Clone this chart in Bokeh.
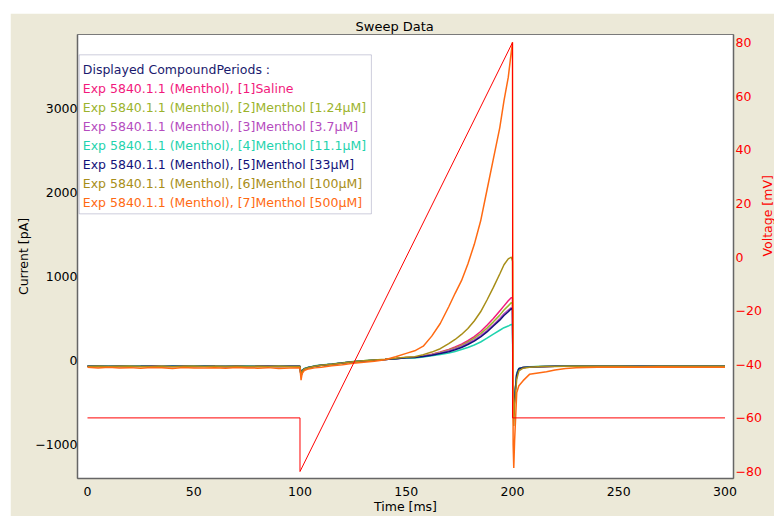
import math
from bokeh.plotting import figure
from bokeh.models import Range1d, LinearAxis, FixedTicker, BoxAnnotation, ColumnDataSource, Spacer
from bokeh.layouts import column, row
from bokeh.embed import file_html
from bokeh.resources import INLINE
from bokeh.core.properties import value

# ---------------- data ----------------
time_ms = [0, 5, 10, 15, 20, 25, 30, 35, 40, 45, 50, 55, 60, 65, 70, 75, 80, 85, 90, 95,
           99.5, 100, 100.5, 101, 102, 104, 107, 110,
           115, 120, 125, 130, 135, 140, 145, 150,
           154, 158, 162, 166, 170,
           173, 176, 179, 182, 185, 188, 191,
           194, 196, 198, 199.5, 200,
           200.3, 200.6, 201, 202, 203, 205, 208, 212, 216, 220, 225, 230,
           240, 250, 260, 270, 280, 290, 300]

series_names = [
    "Exp 5840.1.1 (Menthol), [1]Saline",
    "Exp 5840.1.1 (Menthol), [2]Menthol [1.24\u00b5M]",
    "Exp 5840.1.1 (Menthol), [3]Menthol [3.7\u00b5M]",
    "Exp 5840.1.1 (Menthol), [4]Menthol [11.1\u00b5M]",
    "Exp 5840.1.1 (Menthol), [5]Menthol [33\u00b5M]",
    "Exp 5840.1.1 (Menthol), [6]Menthol [100\u00b5M]",
    "Exp 5840.1.1 (Menthol), [7]Menthol [500\u00b5M]",
]
series_colors = ["#F2197C", "#9BB32C", "#B54CBE", "#1FD3AE", "#12127A", "#A88E18", "#FF6A12"]

current_saline = [-68, -72, -66, -70, -74, -69, -67, -71, -73, -68, -70, -66, -72, -69, -71, -74, -68, -70, -72, -70,
                  -70, -72, -185, -125, -100, -84, -68, -57,
                  -45, -30, -15, -5, 4, 12, 22, 35,
                  40, 55, 75, 100, 130,
                  160, 195, 235, 285, 345, 420, 500,
                  590, 650, 710, 750, 740,
                  -520, -620, -440, -160, -98, -84, -78, -74, -72, -70, -69, -68,
                  -69, -67, -70, -68, -69, -67, -68]
current_1_24 = [-70, -67, -71, -69, -66, -72, -70, -68, -69, -72, -67, -70, -69, -71, -68, -70, -73, -69, -67, -71,
                -71, -70, -180, -120, -98, -82, -66, -56,
                -44, -29, -14, -4, 5, 13, 23, 36,
                40, 55, 72, 95, 125,
                150, 180, 220, 265, 320, 385, 460,
                540, 600, 650, 690, 680,
                -530, -610, -430, -160, -96, -83, -77, -73, -71, -70, -68, -68,
                -68, -70, -67, -69, -68, -70, -67]
current_3_7 = [-69, -71, -68, -72, -70, -67, -70, -73, -68, -70, -71, -69, -67, -72, -70, -68, -71, -69, -70, -68,
               -69, -71, -182, -122, -99, -83, -67, -57,
               -45, -31, -15, -5, 4, 12, 21, 34,
               38, 52, 68, 88, 115,
               140, 168, 205, 245, 295, 355, 425,
               500, 555, 600, 630, 620,
               -540, -620, -440, -165, -97, -84, -78, -74, -71, -70, -69, -68,
               -70, -68, -69, -67, -69, -68, -70]
current_11_1 = [-66, -69, -67, -70, -68, -65, -69, -71, -67, -68, -70, -66, -69, -68, -70, -67, -69, -71, -68, -69,
                -68, -69, -175, -118, -96, -80, -64, -54,
                -42, -28, -13, -3, 6, 13, 22, 33,
                30, 42, 55, 72, 90,
                108, 130, 155, 185, 220, 265, 315,
                360, 390, 410, 430, 420,
                -500, -590, -420, -150, -94, -82, -76, -72, -70, -69, -67, -66,
                -67, -66, -68, -66, -67, -65, -67]
current_33 = [-70, -68, -72, -69, -71, -70, -68, -71, -70, -69, -72, -68, -70, -71, -69, -72, -70, -68, -71, -69,
              -70, -70, -188, -124, -100, -84, -68, -58,
              -46, -31, -16, -6, 3, 11, 20, 33,
              35, 48, 62, 82, 105,
              128, 155, 190, 230, 280, 340, 410,
              480, 535, 580, 620, 600,
              -550, -630, -450, -170, -98, -84, -78, -74, -72, -70, -69, -68,
              -68, -69, -68, -70, -68, -69, -68]
current_100 = [-71, -69, -73, -70, -68, -72, -71, -69, -74, -70, -68, -72, -70, -73, -69, -71, -70, -72, -69, -73,
               -72, -73, -195, -128, -102, -86, -69, -58,
               -45, -30, -14, -3, 6, 15, 26, 40,
               45, 70, 100, 140, 200,
               250, 310, 380, 470, 580, 720, 870,
               1030, 1140, 1210, 1230, 1180,
               -620, -780, -520, -220, -125, -92, -80, -75, -72, -71, -70, -69,
               -70, -69, -71, -69, -70, -68, -70]
current_500 = [-82, -88, -80, -90, -85, -92, -84, -87, -95, -83, -88, -90, -86, -93, -84, -89, -91, -85, -96, -88,
               -86, -90, -235, -155, -120, -100, -88, -80,
               -62, -50, -32, -20, -10, 8, 45, 85,
               115, 170, 290, 440, 640,
               800, 950, 1150, 1380, 1660, 2030, 2400,
               2770, 3095, 3370, 3690, 3790,
               -1000, -1280, -950, -380, -300, -240, -165, -148, -135, -112, -96, -86,
               -82, -80, -81, -79, -82, -80, -81]
currents = [current_saline, current_1_24, current_3_7, current_11_1, current_33, current_100, current_500]

voltage_time = [0, 100, 100, 200, 200, 300]
voltage_mv = [-60, -60, -80, 80, -60, -60]

x_ticks = [0, 50, 100, 150, 200, 250, 300]
current_ticks = [-1000, 0, 1000, 2000, 3000]
voltage_ticks = [-80, -60, -40, -20, 0, 20, 40, 60, 80]

legend_title = "Displayed CompoundPeriods :"

# ---------------- figure ----------------
FONT = "DejaVu Sans"
FS = "12.5px"
BEIGE = "#ECE9D8"

p = figure(width=778, height=503, output_backend="svg", toolbar_location=None,
           x_range=Range1d(-4.7, 304.0), y_range=Range1d(-1405, 3881),
           min_border_left=67, min_border_right=55, min_border_top=21, min_border_bottom=38,
           background_fill_color="white", border_fill_color=BEIGE,
           title="Sweep Data")
p.extra_y_ranges = {"v": Range1d(-82.6, 83.0)}

p.title.align = "left"
p.title.offset = 278
p.title.standoff = 2
p.title.text_font = FONT
p.title.text_font_size = "13px"
p.title.text_font_style = "normal"
p.title.text_color = "black"

p.grid.visible = False
p.outline_line_color = "#7A7A7A"
p.outline_line_width = 1

for ax in (p.xaxis[0], p.yaxis[0]):
    ax.major_tick_line_color = None
    ax.minor_tick_line_color = None
    ax.major_tick_out = 0
    ax.major_tick_in = 0
    ax.axis_line_color = "#666666"
    ax.axis_line_width = 1.5
    ax.major_label_text_font = FONT
    ax.major_label_text_font_size = FS
    ax.major_label_text_color = "black"
    ax.axis_label_text_font = FONT
    ax.axis_label_text_font_size = FS
    ax.axis_label_text_font_style = "normal"
    ax.axis_label_text_color = "black"

p.xaxis.ticker = FixedTicker(ticks=x_ticks)
p.xaxis.axis_label = "Time [ms]"
p.xaxis.major_label_standoff = 8
p.xaxis.axis_label_standoff = 0

p.yaxis.ticker = FixedTicker(ticks=current_ticks)
p.yaxis.axis_label = "Current [pA]"
p.yaxis.major_label_standoff = 0
p.yaxis.axis_label_standoff = 1

vax = LinearAxis(y_range_name="v", ticker=FixedTicker(ticks=voltage_ticks), axis_label="Voltage [mV]")
vax.major_tick_line_color = None
vax.minor_tick_line_color = None
vax.major_tick_out = 0
vax.major_tick_in = 0
vax.axis_line_color = "#666666"
vax.axis_line_width = 1.5
vax.major_label_standoff = 2
vax.major_label_text_font = FONT
vax.major_label_text_font_size = FS
vax.major_label_text_color = "#FF0000"
vax.axis_label_text_font = FONT
vax.axis_label_text_font_size = FS
vax.axis_label_text_font_style = "normal"
vax.axis_label_text_color = "#FF0000"
vax.axis_label_standoff = 3
vax.axis_label_orientation = math.pi / 2
p.add_layout(vax, "right")

for vals, col in zip(currents, series_colors):
    p.line(time_ms, vals, line_color=col, line_width=1.5)

p.line(voltage_time, voltage_mv, y_range_name="v", line_color="#FF0000", line_width=1)

# ---------------- legend (manual, per-line colours) ----------------
pa_per_px = 1000 / 84.0
box = BoxAnnotation(left=-3.9, right=133.6, top=3639, bottom=1746,
                    fill_color="white", fill_alpha=1.0,
                    line_color="#5A5A8A", line_width=1, level="underlay")
p.add_layout(box)

leg_text = [legend_title] + series_names
leg_color = ["#1A1A6E"] + series_colors
leg_y = [3461 - i * 19 * pa_per_px for i in range(len(leg_text))]
leg_x = [-2.2] * len(leg_text)
src = ColumnDataSource(dict(x=leg_x, y=leg_y, text=leg_text, color=leg_color))
p.text(x="x", y="y", text="text", text_color="color", source=src,
       text_font=value(FONT), text_font_size=value(FS),
       text_baseline="middle", text_align="left")

layout = column(Spacer(width=10, height=13), row(Spacer(width=10, height=10), p))
open("out.html", "w").write(file_html(layout, INLINE))
